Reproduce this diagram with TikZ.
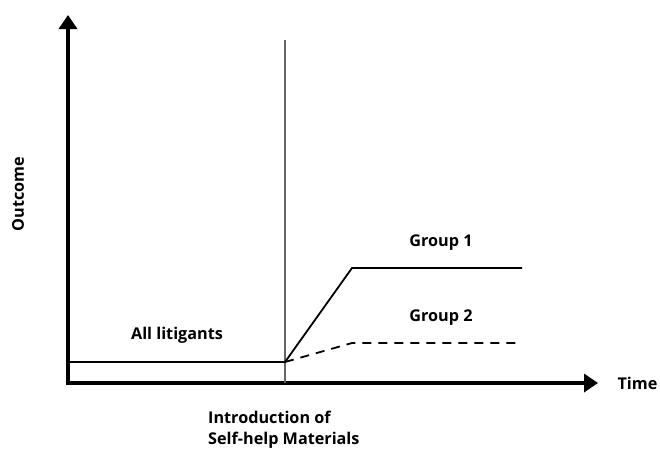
\documentclass[tikz,border=0pt]{standalone}
\usepackage{fontspec}
\setmainfont{Open Sans}
\usetikzlibrary{arrows.meta,positioning}

\begin{document}
\begin{tikzpicture}[
        x=1pt, y=-1pt,
        every node/.style={font=\bfseries\fontsize{16.2}{21}\selectfont},
        axis/.style={line width=4.5pt, -{Triangle[length=14pt,width=18pt]}},
        curve/.style={line width=1.8pt},
        marker/.style={draw=black!60, line width=1.3pt},
    ]
    \useasboundingbox (0,0) rectangle (660,451);

    % --- Axes -------------------------------------------------------------
    \coordinate (origin) at (68,383);
    \coordinate (ytip)   at (68,15);
    \coordinate (xtip)   at (598,383);
    \draw[axis] ([yshift=2.25pt]origin) -- (ytip);
    \draw[axis] ([xshift=-2.25pt]origin) -- (xtip);
    \node[anchor=west] (time) at (614,383) {Time};
    \node[rotate=90] (outcome) at (18,194) {Outcome};

    % --- Intervention marker ----------------------------------------------
    \coordinate (intro) at (285,383);
    \coordinate (introtop) at (285,40);
    \draw[marker] (intro) -- (introtop);
    \node[align=left, anchor=north west, inner sep=0pt] (introlabel) at (208,411)
        {Introduction of\\Self-help Materials};

    % --- Outcome lines ----------------------------------------------------
    \coordinate (start) at (70,362);
    \coordinate (split) at (285,362);
    \coordinate (g1bend) at (352,268);
    \coordinate (g1end)  at (522,268);
    \coordinate (g2bend) at (352,343);
    \coordinate (g2end)  at (522,343);
    \draw[curve] (start) -- (split);
    \draw[curve] (split) -- (g1bend) -- (g1end);
    \draw[curve, dash pattern=on 9pt off 7pt] (split) -- (g2bend) -- (g2end);

    \node (all) at (177,335) {All litigants};
    \node (g1)  at (441,243) {Group 1};
    \node (g2)  at (441,318) {Group 2};

\end{tikzpicture}
\end{document}
